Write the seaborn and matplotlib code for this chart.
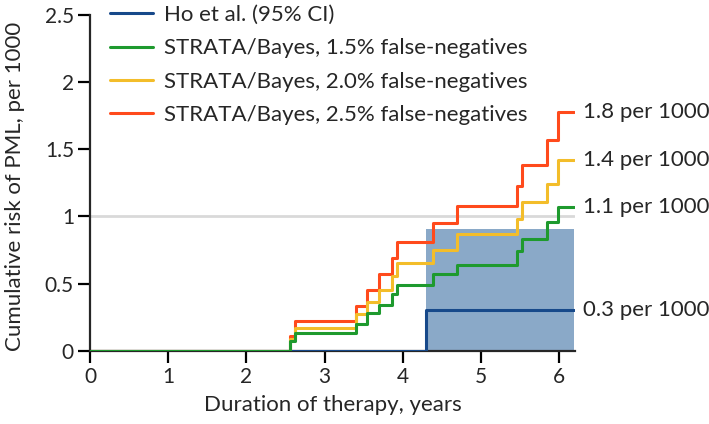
import matplotlib
matplotlib.use('Agg')
import matplotlib.pyplot as plt
import seaborn as sns
import pandas as pd

# step times (years) shared by the STRATA/Bayes curves
step_years = [0, 2.56, 2.62, 3.40, 3.54, 3.70, 3.86, 3.93, 4.39, 4.69, 5.46, 5.52, 5.84, 5.98, 6.19]
risk_15 = [0, 0.07, 0.135, 0.20, 0.28, 0.34, 0.42, 0.49, 0.57, 0.64, 0.74, 0.83, 0.955, 1.07, 1.07]
risk_20 = [0, 0.09, 0.17, 0.27, 0.36, 0.45, 0.555, 0.65, 0.75, 0.87, 0.98, 1.11, 1.24, 1.42, 1.42]
risk_25 = [0, 0.11, 0.22, 0.335, 0.45, 0.57, 0.69, 0.81, 0.95, 1.08, 1.23, 1.38, 1.57, 1.78, 1.78]

# Ho et al. estimate and 95% CI
ho_years = [0, 4.30, 6.19]
ho_risk = [0, 0.3, 0.3]
ho_ci_years = [4.30, 6.19]
ho_ci_low = [0, 0]
ho_ci_high = [0.906, 0.906]

series_names = ["Ho et al. (95% CI)",
                "STRATA/Bayes, 1.5% false-negatives",
                "STRATA/Bayes, 2.0% false-negatives",
                "STRATA/Bayes, 2.5% false-negatives"]
end_labels = ["0.3 per 1000", "1.1 per 1000", "1.4 per 1000", "1.8 per 1000"]
colors = ["#17498a", "#1e9a2e", "#f3bd2a", "#ff4a1c"]
# green sits on top where the curves overlap at zero
line_z = {"#17498a": 3.5, "#1e9a2e": 3.6, "#f3bd2a": 3.2, "#ff4a1c": 3.1}

frames = [pd.DataFrame({"years": ho_years, "risk": ho_risk, "series": series_names[0]})]
for name, vals in zip(series_names[1:], [risk_15, risk_20, risk_25]):
    frames.append(pd.DataFrame({"years": step_years, "risk": vals, "series": name}))
df = pd.concat(frames, ignore_index=True)

sns.set_style("ticks")
plt.rcParams['font.family'] = ['Lato', 'DejaVu Sans']

fig = plt.figure(figsize=(7.09, 4.24), dpi=100)
ax = fig.add_axes([0.1269, 0.1729, 0.6838, 0.7917])

ax.axhline(1, xmax=6.19 / 6.2, color="#d9d9d9", lw=2, zorder=0)
ax.fill_between(ho_ci_years, ho_ci_low, ho_ci_high, color="#8aa9c8", lw=0, zorder=1)

sns.lineplot(data=df, x="years", y="risk", hue="series", hue_order=series_names,
             palette=colors, drawstyle="steps-post", estimator=None, lw=2.2, ax=ax, zorder=3)

for ln in ax.lines:
    c = matplotlib.colors.to_hex(ln.get_color())
    if c in line_z:
        ln.set_zorder(line_z[c])

# labels at the end of each curve
for name, lab in zip(series_names, end_labels):
    last = df[df["series"] == name].iloc[-1]
    ax.text(last["years"] + 0.11, last["risk"], lab, va="center", ha="left", fontsize=16, clip_on=False)

ax.set_xlim(0, 6.2)
ax.set_ylim(0, 2.5)
ax.set_xticks(range(0, 7))
ax.set_yticks([0, 0.5, 1, 1.5, 2, 2.5])
ax.set_yticklabels(["0", "0.5", "1", "1.5", "2", "2.5"])
ax.tick_params(labelsize=15, width=1.6, length=8.5, pad=3, color="black")
for s in ["left", "bottom"]:
    ax.spines[s].set_linewidth(1.6)
sns.despine(ax=ax)

ax.set_xlabel("Duration of therapy, years", fontsize=16)
ax.set_ylabel("Cumulative risk of PML, per 1000", fontsize=16)
ax.xaxis.set_label_coords(0.5, -0.133)
ax.yaxis.set_label_coords(-0.134, 0.49)

ax.legend(loc="upper left", bbox_to_anchor=(110 / 709, 1 - 5 / 424), bbox_transform=fig.transFigure,
          frameon=False, fontsize=16, borderpad=0, borderaxespad=0,
          handlelength=1.95, handletextpad=0.5, labelspacing=0.6, title=None)

fig.savefig("out.png", dpi=100)
